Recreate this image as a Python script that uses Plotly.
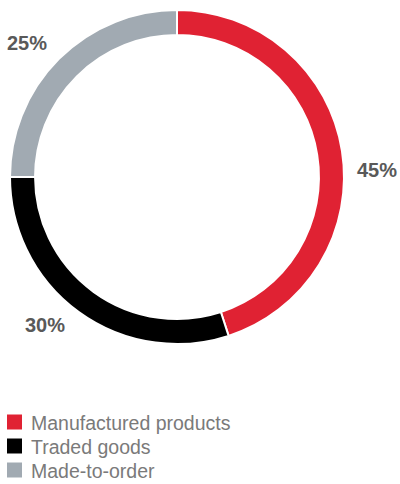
import plotly.graph_objects as go

categories = ["Manufactured products", "Traded goods", "Made-to-order"]
values = [45, 30, 25]
colors = ["#E02233", "#000000", "#A1AAB2"]
label_texts = ["45%", "30%", "25%"]
label_pos = [(0.9425, 0.649), (0.1125, 0.3285), (0.0675, 0.911)]

W, H = 400, 484
FONT = "Liberation Sans, Arial, Helvetica, sans-serif"

fig = go.Figure()
fig.add_trace(go.Pie(
    labels=categories,
    values=values,
    marker=dict(colors=colors, line=dict(color="#FFFFFF", width=2)),
    hole=0.85,
    sort=False,
    direction="clockwise",
    rotation=0,
    textinfo="none",
    hoverinfo="label+percent",
    showlegend=False,
    domain=dict(x=[10/W, 344/W], y=[1 - 344/H, 1 - 10/H]),
))

# percentage labels
for t, (x, y) in zip(label_texts, label_pos):
    fig.add_annotation(x=x, y=y, xref="paper", yref="paper", text="<b>%s</b>" % t,
                       xanchor="center", yanchor="middle",
                       showarrow=False, font=dict(size=20, color="#595959", family=FONT))

# legend (drawn as squares + text)
leg_top, leg_step, sq = 422, 24, 15
for i, (cat, col) in enumerate(zip(categories, colors)):
    yc = leg_top + leg_step * i
    fig.add_shape(type="rect", xref="paper", yref="paper",
                  x0=7/W, x1=(7 + sq)/W, y0=1 - (yc + sq/2)/H, y1=1 - (yc - sq/2)/H,
                  fillcolor=col, line=dict(width=0))
    fig.add_annotation(x=30/W, y=1 - (yc + 1)/H, xref="paper", yref="paper", text=cat,
                       xanchor="left", yanchor="middle", showarrow=False, borderpad=0,
                       font=dict(size=19.5, color="#7A7A7A", family=FONT))

fig.update_layout(
    width=W, height=H,
    margin=dict(l=0, r=0, t=0, b=0, autoexpand=False),
    paper_bgcolor="white", plot_bgcolor="white",
    showlegend=False,
)

fig.write_html("out.html")
